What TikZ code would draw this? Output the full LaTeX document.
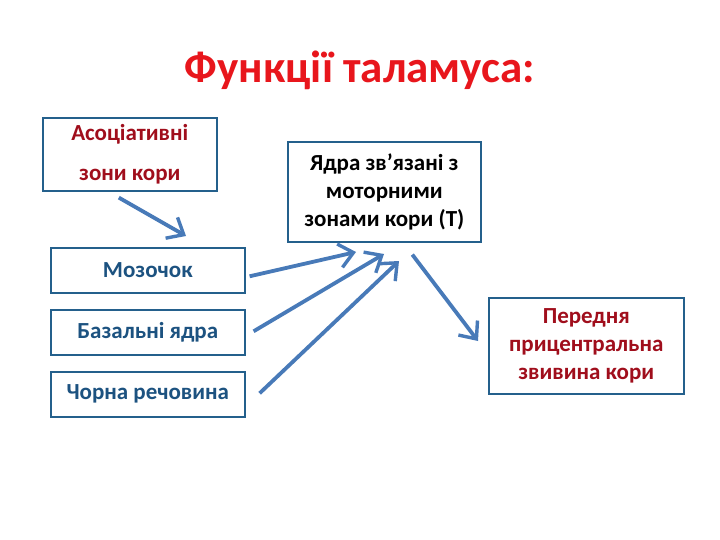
\documentclass[tikz,border=0pt]{standalone}
\usepackage{fontspec}
\setmainfont{Carlito}
\usetikzlibrary{arrows.meta}
\definecolor{titlered}{RGB}{232,22,28}
\definecolor{darkred}{RGB}{160,14,28}
\definecolor{boxblue}{RGB}{36,96,140}
\definecolor{txtblue}{RGB}{28,82,128}
\definecolor{arrblue}{RGB}{72,122,184}
\tikzset{
  box/.style={draw=boxblue, line width=1.6pt, fill=white, inner sep=0pt, anchor=north west, align=center, font=\bfseries\fontsize{23}{28}\selectfont},
  conn/.style={draw=arrblue, line width=3.8pt, -{Straight Barb[length=14pt, width=24pt, line width=3.4pt]}}
}
\begin{document}
\begin{tikzpicture}[x=1pt,y=-1pt]
\useasboundingbox (0,0) rectangle (720,540);
\node[font=\bfseries\fontsize{45}{50}\selectfont, text=titlered] (title) at (360,70) {Функції таламуса:};
\node[box, minimum width=174pt, minimum height=73pt, text=darkred, font=\bfseries\fontsize{23}{40}\selectfont] (asoc) at (42,117) {Асоціативні\\зони кори};
\node[box, minimum width=193pt, minimum height=100pt, text=black] (yadra) at (287,141) {Ядра зв’язані з\\моторними\\зонами кори (Т)};
\node[box, minimum width=194pt, minimum height=45pt, text=txtblue] (moz) at (50,247) {Мозочок};
\node[box, minimum width=194pt, minimum height=45pt, text=txtblue] (baz) at (50,309) {Базальні ядра};
\node[box, minimum width=194pt, minimum height=45pt, text=txtblue] (chorna) at (50,371) {Чорна речовина};
\node[box, minimum width=195pt, minimum height=96pt, text=darkred] (pered) at (488,297) {Передня\\прицентральна\\звивина кори};
\coordinate (e1) at (186,236);
\coordinate (e2) at (356,252);
\coordinate (e3) at (384,254);
\coordinate (e4) at (399,261);
\coordinate (e5) at (478,341);
\draw[conn] ([shift={(-11,6)}]asoc.south) -- (e1);
\draw[conn] ([shift={(4,6)}]moz.east) -- (e2);
\draw[conn] ([shift={(8,-1)}]baz.east) -- (e3);
\draw[conn] ([shift={(14,-1)}]chorna.east) -- (e4);
\draw[conn] ([shift={(28,12)}]yadra.south) -- (e5);
\end{tikzpicture}
\end{document}
